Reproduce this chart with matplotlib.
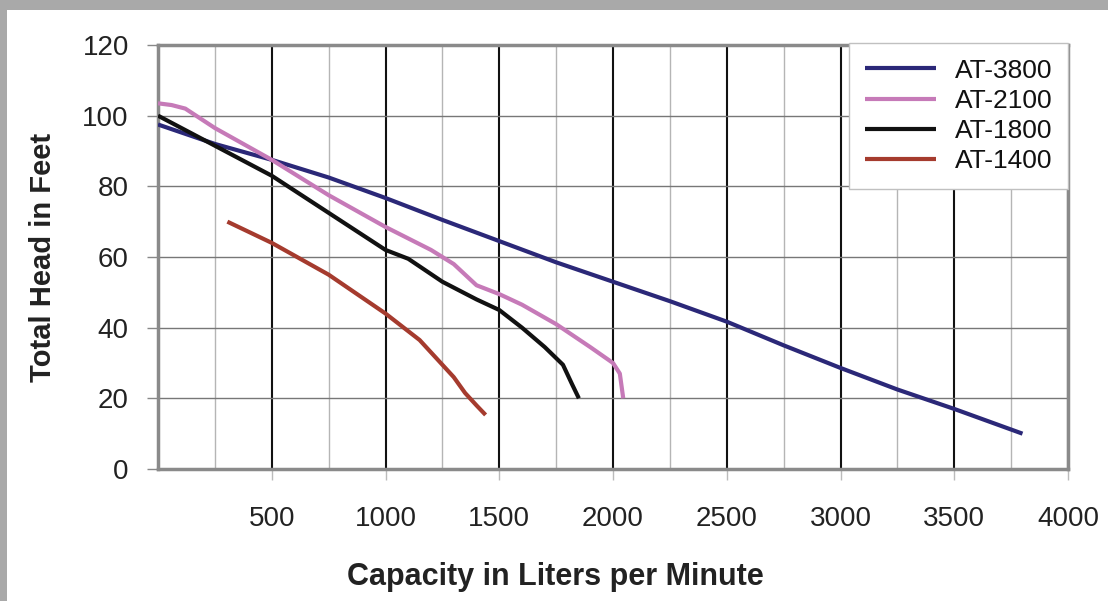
import matplotlib
matplotlib.use("Agg")
import matplotlib.pyplot as plt
from matplotlib.patches import Rectangle
from matplotlib.ticker import MultipleLocator

plt.rcParams['font.family'] = ['Liberation Sans', 'DejaVu Sans']

at3800_x = [0, 250, 500, 750, 1000, 1250, 1500, 1750, 2000, 2250, 2500, 2750, 3000, 3250, 3500, 3800]
at3800_y = [97.5, 92, 87.5, 82.5, 76.7, 70.5, 64.5, 58.5, 53, 47.5, 41.7, 35, 28.6, 22.5, 17, 10]

at2100_x = [0, 60, 120, 250, 500, 750, 1000, 1200, 1300, 1400, 1500, 1600, 1750, 1900, 2000, 2030, 2045]
at2100_y = [103.5, 103, 102, 96.5, 87.5, 77.5, 68.5, 62, 58, 52, 49.5, 46.5, 41, 34.5, 30, 27, 20]

at1800_x = [0, 250, 500, 750, 1000, 1100, 1250, 1400, 1500, 1600, 1700, 1780, 1820, 1850]
at1800_y = [100, 91.5, 83, 72.5, 62, 59.5, 53, 48, 45, 40, 34.5, 29.5, 24, 20]

at1400_x = [305, 500, 750, 1000, 1150, 1300, 1350, 1400, 1440]
at1400_y = [70, 64, 55, 44, 36.5, 26, 21.5, 18, 15.3]

series = [
    ("AT-3800", at3800_x, at3800_y, "#2b2878"),
    ("AT-2100", at2100_x, at2100_y, "#c67ab8"),
    ("AT-1800", at1800_x, at1800_y, "#111111"),
    ("AT-1400", at1400_x, at1400_y, "#a53b2e"),
]

x_ticks = [500, 1000, 1500, 2000, 2500, 3000, 3500, 4000]
y_ticks = [0, 20, 40, 60, 80, 100, 120]

fig = plt.figure(figsize=(11.08, 6.01), dpi=100)
fig.patch.set_facecolor("white")
# gray frame (top and left)
fig.patches.append(Rectangle((0, 1 - 10 / 601), 1, 10 / 601, transform=fig.transFigure,
                             facecolor="#a9a9a9", edgecolor="none", zorder=0))
fig.patches.append(Rectangle((0, 0), 7 / 1108, 1, transform=fig.transFigure,
                             facecolor="#a9a9a9", edgecolor="none", zorder=0))

ax = fig.add_axes([158 / 1108, 1 - 469 / 601, (1068 - 158) / 1108, (469 - 45) / 601])
ax.set_xlim(0, 4000)
ax.set_ylim(0, 120)

ax.xaxis.set_minor_locator(MultipleLocator(250))
ax.set_xticks(x_ticks)
ax.set_yticks(y_ticks)

ax.grid(which="major", axis="x", color="#111111", lw=1.5, zorder=1)
ax.grid(which="minor", axis="x", color="#b5b5b5", lw=1.0, zorder=1)
ax.grid(which="major", axis="y", color="#777777", lw=1.0, zorder=1)

for s in ax.spines.values():
    s.set_color("#8a8a8a")
    s.set_linewidth(2.5)

ax.tick_params(axis="x", which="major", direction="out", length=8, width=1, color="#bbbbbb",
               pad=19, labelsize=20, labelcolor="#222222")
ax.tick_params(axis="x", which="minor", length=0)
ax.tick_params(axis="y", which="major", direction="out", length=8, width=1, color="#888888",
               pad=13, labelsize=20, labelcolor="#222222")

for name, xs, ys, c in series:
    ax.plot(xs, ys, color=c, lw=3.0, label=name, zorder=3, solid_capstyle="butt")

leg = ax.legend(loc="upper right", bbox_to_anchor=(1.0, 1.005), borderaxespad=0,
                fontsize=19, handlelength=2.7, handletextpad=0.7, labelspacing=0.23,
                frameon=True, fancybox=False, edgecolor="#c0c0c0", framealpha=1,
                borderpad=0.6)
leg.get_frame().set_linewidth(1.0)
for t in leg.get_texts():
    t.set_color("#111111")

ax.set_xlabel("Capacity in Liters per Minute", fontsize=22, fontweight="bold",
              color="#222222")
ax.xaxis.set_label_coords((555 - 158) / 910, -(577 - 469) / 424, transform=ax.transAxes)
ax.xaxis.label.set_va("center")
ax.set_ylabel("Total Head in Feet", fontsize=21, fontweight="bold", color="#222222",
              labelpad=18)

fig.savefig("out.png", dpi=100)
